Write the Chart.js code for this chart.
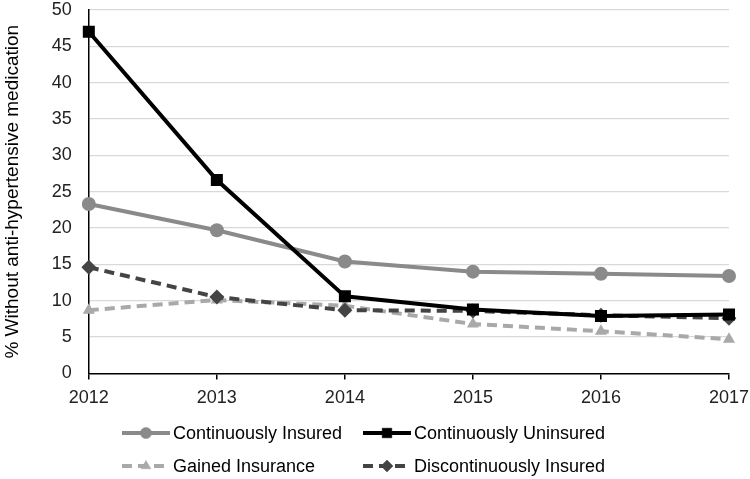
<!DOCTYPE html>
<html><head><meta charset="utf-8">
<script src="https://cdn.jsdelivr.net/npm/chart.js@4/dist/chart.umd.min.js"></script>
<style>html,body{margin:0;padding:0;background:#fff}#wrap{width:750px;height:479px}</style>
</head><body><div id="wrap"><canvas id="c" width="750" height="479"></canvas></div>
<script>
const years = ["2012","2013","2014","2015","2016","2017"];
const continuouslyInsured = [23.3, 19.7, 15.4, 14.0, 13.7, 13.4];
const continuouslyUninsured = [47.0, 26.6, 10.6, 8.8, 7.9, 8.1];
const gainedInsurance = [8.7, 10.1, 9.3, 6.8, 5.8, 4.7];
const discontinuouslyInsured = [14.6, 10.5, 8.7, 8.6, 8.0, 7.6];
const yTitle = "% Without anti-hypertensive medication";

const FONT = "'Liberation Sans', Arial, sans-serif";

const legendPlugin = {
  id: 'customLegend',
  afterDraw(chart) {
    const ctx = chart.ctx;
    const ds = chart.data.datasets;
    const slots = [
      {i:0, x:122, y:433}, {i:1, x:363, y:433},
      {i:2, x:122, y:466}, {i:3, x:363, y:466}
    ];
    slots.forEach(s => {
      const d = ds[s.i];
      ctx.save();
      ctx.strokeStyle = d.borderColor;
      ctx.lineWidth = d.borderWidth;
      ctx.setLineDash(d.borderDash || []);
      ctx.beginPath();
      ctx.moveTo(s.x, s.y); ctx.lineTo(s.x + 48, s.y);
      ctx.stroke();
      ctx.setLineDash([]);
      ctx.fillStyle = d.backgroundColor;
      ctx.strokeStyle = d.backgroundColor;
      ctx.lineWidth = 0.5;
      Chart.helpers.drawPoint(ctx, {pointStyle: d.pointStyle, radius: d.pointRadius * 0.8, borderWidth: 0.5}, s.x + 24, s.y);
      ctx.fillStyle = '#000';
      ctx.font = "18px " + FONT;
      ctx.textBaseline = 'middle';
      ctx.fillText(d.label, s.x + 51, s.y + 1);
      ctx.restore();
    });
  }
};

new Chart(document.getElementById('c'), {
  type: 'line',
  data: {
    labels: years,
    datasets: [
      {label:"Continuously Insured", data: continuouslyInsured, borderColor:'#8a8a8a', backgroundColor:'#8a8a8a', borderWidth:4, pointStyle:'circle', pointRadius:7, pointBorderWidth:0, order:2},
      {label:"Continuously Uninsured", data: continuouslyUninsured, borderColor:'#000', backgroundColor:'#000', borderWidth:4, pointStyle:'rect', pointRadius:8.5, pointBorderWidth:0, order:0},
      {label:"Gained Insurance", data: gainedInsurance, borderColor:'#a9a9a9', backgroundColor:'#a9a9a9', borderWidth:4, borderDash:[10,6], pointStyle:'triangle', pointRadius:7, pointBorderWidth:0, order:3},
      {label:"Discontinuously Insured", data: discontinuouslyInsured, borderColor:'#444', backgroundColor:'#444', borderWidth:4, borderDash:[10,6], pointStyle:'rectRot', pointRadius:7.5, pointBorderWidth:0, order:1}
    ]
  },
  options: {
    responsive:false, animation:false, devicePixelRatio:1,
    layout:{padding:{left:1, right:21, top:10, bottom:62}},
    plugins:{legend:{display:false}, tooltip:{enabled:false}},
    scales:{
      x:{offset:false,
        afterFit: s => { s.paddingRight = 0; s.paddingLeft = 0; },
        grid:{display:true, drawOnChartArea:false, drawTicks:true, tickLength:6, color:'#000', lineWidth:1.5},
        border:{color:'#000', width:1.5},
        ticks:{color:'#222', font:{size:18, family:FONT}, padding:8, maxRotation:0}
      },
      y:{min:0, max:50,
        afterFit: s => { s.paddingTop = 0; s.paddingBottom = 0; },
        grid:{color:'#d9d9d9', lineWidth:1.2, drawTicks:false},
        border:{color:'#000', width:1.5},
        ticks:{stepSize:5, color:'#222', font:{size:18, family:FONT}, padding:17},
        title:{display:true, text:yTitle, color:'#000', font:{size:19, family:FONT}, padding:{top:0,bottom:11}}
      }
    }
  },
  plugins:[legendPlugin]
});
</script></body></html>
